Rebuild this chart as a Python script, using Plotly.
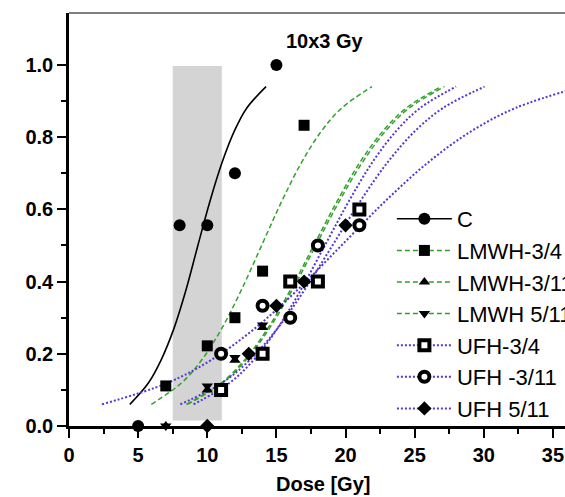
import plotly.graph_objects as go

# ---- measured data points (dose [Gy], response) ----
c_dose = [5, 8, 10, 12, 15]
c_resp = [0.0, 0.556, 0.556, 0.70, 1.0]
lmwh34_dose = [7, 10, 12, 14, 17]
lmwh34_resp = [0.111, 0.222, 0.30, 0.429, 0.833]
lmwh311_dose = [7, 10, 12, 14, 17]
lmwh311_resp = [0.0, 0.10, 0.182, 0.273, 0.40]
lmwh511_dose = [7, 10, 12, 14, 17]
lmwh511_resp = [0.0, 0.111, 0.19, 0.28, 0.40]
ufh34_dose = [11, 14, 16, 18, 21]
ufh34_resp = [0.10, 0.20, 0.40, 0.40, 0.60]
ufh311_dose = [11, 14, 16, 18, 21]
ufh311_resp = [0.20, 0.333, 0.30, 0.50, 0.556]
ufh511_dose = [10, 13, 15, 17, 20]
ufh511_resp = [0.0, 0.20, 0.333, 0.40, 0.556]

# ---- fitted curves at fixed response levels ----
fit_resp = [0.06, 0.119, 0.182, 0.269, 0.378, 0.5, 0.622, 0.731, 0.818, 0.881, 0.94]
c_fit_dose = [4.40, 5.74, 6.65, 7.58, 8.47, 9.32, 10.19, 11.08, 11.97, 12.86, 14.25]
lmwh34_fit_dose = [5.95, 8.13, 9.58, 11.03, 12.48, 13.93, 15.38, 16.83, 18.28, 19.73, 21.91]
lmwh311_fit_dose = [8.49, 11.0, 12.68, 14.35, 16.03, 17.7, 19.38, 21.05, 22.73, 24.4, 26.91]
lmwh511_fit_dose = [8.56, 11.09, 12.78, 14.47, 16.16, 17.85, 19.54, 21.23, 22.92, 24.61, 27.15]
ufh34_fit_dose = [9.01, 11.6, 13.33, 15.05, 16.78, 18.5, 20.23, 21.95, 23.68, 25.4, 27.99]
ufh311_fit_dose = [2.38, 7.1, 10.25, 13.4, 16.55, 19.7, 22.85, 26.0, 29.15, 32.3, 37.03]
ufh511_fit_dose = [8.05, 11.05, 13.05, 15.05, 17.05, 19.05, 21.05, 23.05, 25.05, 27.05, 30.05]

# shaded dose band
band_dose = [7.5, 11.05]
band_resp = [0.015, 0.997]

series_names = ["C", "LMWH-3/4", "LMWH-3/11", "LMWH 5/11", "UFH-3/4", "UFH -3/11", "UFH 5/11"]
x_ticks = [0, 5, 10, 15, 20, 25, 30, 35]
y_ticks = [0.0, 0.2, 0.4, 0.6, 0.8, 1.0]
chart_title = "10x3 Gy"
x_title = "Dose [Gy]"

GREEN = "#33a02c"
PURPLE = "#5536d6"
FONT = "Liberation Sans"

styles = [
    dict(line=dict(color="black", width=1.6), marker=dict(symbol="circle", size=12, color="black")),
    dict(line=dict(color=GREEN, width=1.5, dash="5px,3px"), marker=dict(symbol="square", size=11, color="black")),
    dict(line=dict(color=GREEN, width=1.5, dash="5px,3px"), marker=dict(symbol="triangle-up", size=10, color="black")),
    dict(line=dict(color=GREEN, width=1.5, dash="5px,3px"), marker=dict(symbol="triangle-down", size=10, color="black")),
    dict(line=dict(color=PURPLE, width=2, dash="2px,2px"), marker=dict(symbol="square", size=10, color="white", line=dict(color="black", width=4))),
    dict(line=dict(color=PURPLE, width=2, dash="2px,2px"), marker=dict(symbol="circle", size=10, color="white", line=dict(color="black", width=4))),
    dict(line=dict(color=PURPLE, width=2, dash="2px,2px"), marker=dict(symbol="diamond", size=11, color="black")),
]

data_sets = [
    (c_dose, c_resp, c_fit_dose),
    (lmwh34_dose, lmwh34_resp, lmwh34_fit_dose),
    (lmwh311_dose, lmwh311_resp, lmwh311_fit_dose),
    (lmwh511_dose, lmwh511_resp, lmwh511_fit_dose),
    (ufh34_dose, ufh34_resp, ufh34_fit_dose),
    (ufh311_dose, ufh311_resp, ufh311_fit_dose),
    (ufh511_dose, ufh511_resp, ufh511_fit_dose),
]

fig = go.Figure()

# fitted curves
for name, st, (dx, dy, fx) in zip(series_names, styles, data_sets):
    fig.add_trace(go.Scatter(x=fx, y=fit_resp, mode="lines", line=dict(shape="spline", **st["line"]),
                             showlegend=False, hoverinfo="skip"))

# data points
for name, st, (dx, dy, fx) in zip(series_names, styles, data_sets):
    fig.add_trace(go.Scatter(x=dx, y=dy, mode="markers", marker=st["marker"], name=name,
                             showlegend=False, cliponaxis=False))

# legend entries (line + marker)
for i, (name, st) in enumerate(zip(series_names, styles)):
    fig.add_trace(go.Scatter(x=[None], y=[None], mode="lines+markers", name=name,
                             line=st["line"], marker=st["marker"], legendgroup=f"g{i}",
                             showlegend=True))

fig.add_shape(type="rect", xref="x", yref="y", x0=band_dose[0], x1=band_dose[1],
              y0=band_resp[0], y1=band_resp[1], fillcolor="#d4d4d4", line=dict(width=0), layer="below")
fig.add_shape(type="line", xref="paper", yref="paper", x0=0, x1=1, y0=1, y1=1,
              line=dict(color="#555555", width=1.5))

fig.add_annotation(text=chart_title, xref="paper", yref="paper", x=0.516, y=0.932,
                   xanchor="center", yanchor="middle", showarrow=False,
                   font=dict(family=FONT, size=20, color="black", weight="bold"))
fig.add_annotation(text=x_title, xref="paper", yref="paper", x=0.513, y=-0.140,
                   xanchor="center", yanchor="middle", showarrow=False,
                   font=dict(family=FONT, size=20, color="black", weight="bold"))

fig.update_layout(
    width=565, height=497,
    margin=dict(l=69, r=0, t=13, b=71, autoexpand=False),
    paper_bgcolor="white", plot_bgcolor="white",
    font=dict(family=FONT, color="black"),
    legend=dict(x=0.651, y=0.552, xanchor="left", yanchor="top",
                font=dict(family=FONT, size=22, color="black"),
                bgcolor="rgba(0,0,0,0)", traceorder="grouped", tracegroupgap=0,
                itemwidth=55),
    xaxis=dict(range=[0, 35.87], automargin=False, tickmode="array", tickvals=x_ticks, ticks="outside",
               ticklen=9, tickwidth=2, tickcolor="black", showline=True, linecolor="black",
               linewidth=2.5, showgrid=False, zeroline=False,
               tickfont=dict(family=FONT, size=20, color="black", weight="bold"),
               minor=dict(dtick=2.5, tick0=0, ticks="outside", ticklen=5, tickwidth=2, tickcolor="black")),
    yaxis=dict(range=[0, 1.144], automargin=False, tickmode="array", tickvals=y_ticks, tickformat=".1f", ticks="outside",
               ticklen=9, tickwidth=2, tickcolor="black", showline=True, linecolor="black",
               linewidth=2.5, showgrid=False, zeroline=False,
               tickfont=dict(family=FONT, size=20, color="black", weight="bold"),
               minor=dict(tickmode="array", tickvals=[0.1, 0.3, 0.5, 0.7, 0.9], ticks="outside",
                          ticklen=5, tickwidth=2, tickcolor="black")),
)

fig.write_html("out.html", config={"displayModeBar": False},
               post_script="document.body.style.margin='0';document.body.style.padding='0';")
